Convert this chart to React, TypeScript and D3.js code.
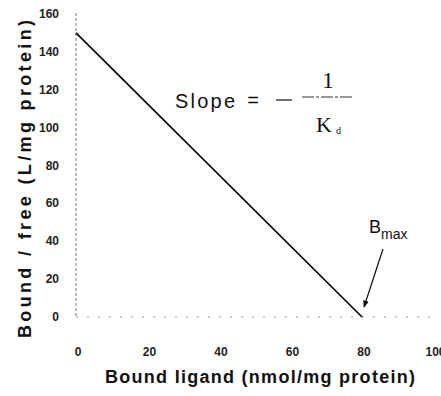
import { useEffect, useRef } from 'react';
import * as React from 'react';
import * as d3 from 'd3';

// Scatchard plot: bound/free vs bound
const boundValues = [0, 80];
const ratioValues = [150, 0];
const xTicks = [0, 20, 40, 60, 80, 100];
const yTicks = [0, 20, 40, 60, 80, 100, 120, 140, 160];
const xTitle = 'Bound ligand (nmol/mg protein)';
const yTitle = 'Bound / free (L/mg protein)';

const App: React.FC = () => {
    const ref = useRef<SVGSVGElement>(null);

    useEffect(() => {
        const svgWidth = 441, svgHeight = 396;
        const svg = d3.select(ref.current)
            .attr('width', svgWidth)
            .attr('height', svgHeight);
        svg.selectAll('*').remove();

        const xScale = d3.scaleLinear().domain([0, 100]).range([76, 433.5]);
        const yScale = d3.scaleLinear().domain([0, 160]).range([317, 14]);

        const font = 'Arial, "Liberation Sans", sans-serif';
        const serif = '"Liberation Serif", "DejaVu Serif", serif';

        // Axes as faint dotted lines
        svg.append('line')
            .attr('x1', xScale(0)).attr('x2', xScale(0))
            .attr('y1', 13).attr('y2', yScale(0))
            .attr('stroke', '#777')
            .attr('stroke-width', 1)
            .attr('stroke-dasharray', '3,2');

        svg.append('line')
            .attr('x1', xScale(0)).attr('x2', xScale(100))
            .attr('y1', yScale(0)).attr('y2', yScale(0))
            .attr('stroke', '#999')
            .attr('stroke-width', 1)
            .attr('stroke-dasharray', '2,9');

        // Tick labels
        svg.selectAll('text.ytick')
            .data(yTicks)
            .enter()
            .append('text')
            .attr('class', 'ytick')
            .attr('x', 59)
            .attr('y', d => yScale(d) + 4)
            .attr('text-anchor', 'end')
            .attr('font-family', font)
            .attr('font-size', '12px')
            .attr('font-weight', 'bold')
            .attr('fill', '#222')
            .text(d => d.toString());

        svg.selectAll('text.xtick')
            .data(xTicks)
            .enter()
            .append('text')
            .attr('class', 'xtick')
            .attr('x', d => xScale(d) + 2)
            .attr('y', 356)
            .attr('text-anchor', 'middle')
            .attr('font-family', font)
            .attr('font-size', '12px')
            .attr('font-weight', 'bold')
            .attr('fill', '#222')
            .text(d => d.toString());

        // Axis titles
        svg.append('text')
            .attr('x', 260)
            .attr('y', 383)
            .attr('text-anchor', 'middle')
            .attr('font-family', font)
            .attr('font-size', '18px')
            .attr('font-weight', 'bold')
            .attr('fill', '#111')
            .attr('textLength', 310)
            .text(xTitle);

        svg.append('text')
            .attr('transform', 'translate(31,179) rotate(-90)')
            .attr('text-anchor', 'middle')
            .attr('font-family', font)
            .attr('font-size', '18px')
            .attr('font-weight', 'bold')
            .attr('fill', '#111')
            .attr('textLength', 318)
            .text(yTitle);

        // The line
        const data = boundValues.map((b, i) => [b, ratioValues[i]] as [number, number]);
        const line = d3.line<[number, number]>()
            .x(d => xScale(d[0]))
            .y(d => yScale(d[1]));

        svg.append('path')
            .datum(data)
            .attr('fill', 'none')
            .attr('stroke', '#000')
            .attr('stroke-width', 1.6)
            .attr('d', line);

        // Slope annotation
        const ann = svg.append('g')
            .attr('font-family', font)
            .attr('fill', '#111');
        ann.append('text')
            .attr('x', 175).attr('y', 108)
            .attr('font-size', '20px')
            .attr('textLength', 60)
            .text('Slope');
        ann.append('text')
            .attr('x', 253).attr('y', 107)
            .attr('text-anchor', 'middle')
            .attr('font-size', '20px')
            .text('=');
        ann.append('line')
            .attr('x1', 276).attr('x2', 292)
            .attr('y1', 100).attr('y2', 100)
            .attr('stroke', '#111').attr('stroke-width', 1.2);
        ann.append('line')
            .attr('x1', 302).attr('x2', 353)
            .attr('y1', 97).attr('y2', 97)
            .attr('stroke', '#333').attr('stroke-width', 1)
            .attr('stroke-dasharray', '12,2,3,2');
        ann.append('text')
            .attr('x', 328).attr('y', 88)
            .attr('text-anchor', 'middle')
            .attr('font-family', serif)
            .attr('font-size', '23px')
            .text('1');
        const kd = ann.append('text')
            .attr('x', 316).attr('y', 132)
            .attr('font-family', serif)
            .attr('font-size', '22px');
        kd.append('tspan').text('K');
        kd.append('tspan')
            .attr('dx', 4).attr('dy', 2)
            .attr('font-size', '10px')
            .text('d');

        // B max annotation
        const bm = svg.append('text')
            .attr('x', 369).attr('y', 233)
            .attr('font-family', font)
            .attr('font-size', '18px')
            .attr('fill', '#111');
        bm.append('tspan').text('B');
        bm.append('tspan')
            .attr('dy', 6)
            .attr('font-size', '14px')
            .text('max');

        svg.append('defs').append('marker')
            .attr('id', 'arrow')
            .attr('viewBox', '0 0 10 10')
            .attr('refX', 9).attr('refY', 5)
            .attr('markerWidth', 6).attr('markerHeight', 6)
            .attr('orient', 'auto')
            .append('path')
            .attr('d', 'M0,1 L10,5 L0,9 Z')
            .attr('fill', '#111');

        svg.append('line')
            .attr('x1', 383).attr('y1', 249)
            .attr('x2', 364).attr('y2', 307)
            .attr('stroke', '#111')
            .attr('stroke-width', 1.2)
            .attr('marker-end', 'url(#arrow)');
    }, []);

    return (
        <svg
            ref={ref}
            style={{ position: 'absolute', left: 0, top: 0, background: '#fff' }}
        />
    );
};

export default App;
